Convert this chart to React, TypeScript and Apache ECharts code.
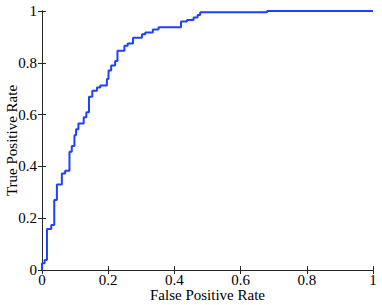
import React, { useEffect, useRef } from "react";
import * as echarts from "echarts";

const fpr = [0, 0, 0.008, 0.015, 0.028, 0.037, 0.045, 0.06, 0.07, 0.083, 0.09, 0.098, 0.103, 0.11, 0.126, 0.134, 0.142, 0.152, 0.166, 0.176, 0.196, 0.201, 0.209, 0.221, 0.228, 0.249, 0.259, 0.275, 0.302, 0.312, 0.335, 0.352, 0.42, 0.438, 0.458, 0.47, 0.478, 0.68, 1];
const tpr = [0, 0.026, 0.039, 0.158, 0.174, 0.27, 0.33, 0.373, 0.383, 0.457, 0.479, 0.52, 0.543, 0.566, 0.59, 0.609, 0.669, 0.692, 0.705, 0.712, 0.737, 0.77, 0.79, 0.807, 0.847, 0.866, 0.875, 0.897, 0.91, 0.917, 0.929, 0.937, 0.959, 0.965, 0.975, 0.985, 0.995, 1, 1];
const xTickLabels = ["0", "0.2", "0.4", "0.6", "0.8", "1"];
const yTickLabels = ["0", "0.2", "0.4", "0.6", "0.8", "1"];
const xLabel = "False Positive Rate";
const yLabel = "True Positive Rate";

const FONT = "Liberation Serif";

export default function App() {
  const ref = useRef<HTMLDivElement>(null);
  useEffect(() => {
    if (!ref.current) return;
    const chart = echarts.init(ref.current, null, { renderer: "svg" });
    const axisLine = { show: true, lineStyle: { color: "#262626", width: 1 } };
    const tick = { show: true, inside: true, length: 4, lineStyle: { color: "#262626" } };
    chart.setOption({
      animation: false,
      backgroundColor: "#fff",
      grid: { left: 42, right: 9, top: 11, bottom: 35, containLabel: false, outerBoundsMode: "none" },
      xAxis: [
        {
          type: "value",
          min: 0,
          max: 1,
          interval: 0.2,
          position: "bottom",
          axisLine,
          axisTick: tick,
          splitLine: { show: false },
          axisLabel: {
            fontFamily: FONT,
            fontSize: 15,
            lineHeight: 11,
            color: "#000",
            margin: 4,
            formatter: (v: number) => xTickLabels[Math.round(v / 0.2)],
          },
          name: xLabel,
          nameLocation: "middle",
          nameGap: 19,
          nameMoveOverlap: false,
          nameTextStyle: { fontFamily: FONT, fontSize: 15, lineHeight: 11, color: "#000" },
        },
        {
          type: "value",
          min: 0,
          max: 1,
          interval: 0.2,
          position: "top",
          axisLine,
          axisTick: tick,
          splitLine: { show: false },
          axisLabel: { show: false },
        },
      ],
      yAxis: [
        {
          type: "value",
          min: 0,
          max: 1,
          interval: 0.2,
          position: "left",
          axisLine,
          axisTick: tick,
          splitLine: { show: false },
          axisLabel: {
            fontFamily: FONT,
            fontSize: 15,
            lineHeight: 11,
            color: "#000",
            margin: 5,
            formatter: (v: number) => yTickLabels[Math.round(v / 0.2)],
          },
          name: yLabel,
          nameLocation: "middle",
          nameGap: 25,
          nameMoveOverlap: false,
          nameTextStyle: { fontFamily: FONT, fontSize: 15, lineHeight: 11, color: "#000" },
        },
        {
          type: "value",
          min: 0,
          max: 1,
          interval: 0.2,
          position: "right",
          axisLine,
          axisTick: tick,
          splitLine: { show: false },
          axisLabel: { show: false },
        },
      ],
      series: [
        {
          type: "line",
          step: "end",
          data: fpr.map((x, i) => [x, tpr[i]]),
          showSymbol: false,
          symbol: "none",
          lineStyle: { color: "#2040ff", width: 2 },
          clip: false,
        },
      ],
    });
    return () => chart.dispose();
  }, []);
  return (
    <div
      ref={ref}
      style={{ position: "fixed", left: 0, top: 0, width: 382, height: 305, background: "#fff" }}
    />
  );
}
